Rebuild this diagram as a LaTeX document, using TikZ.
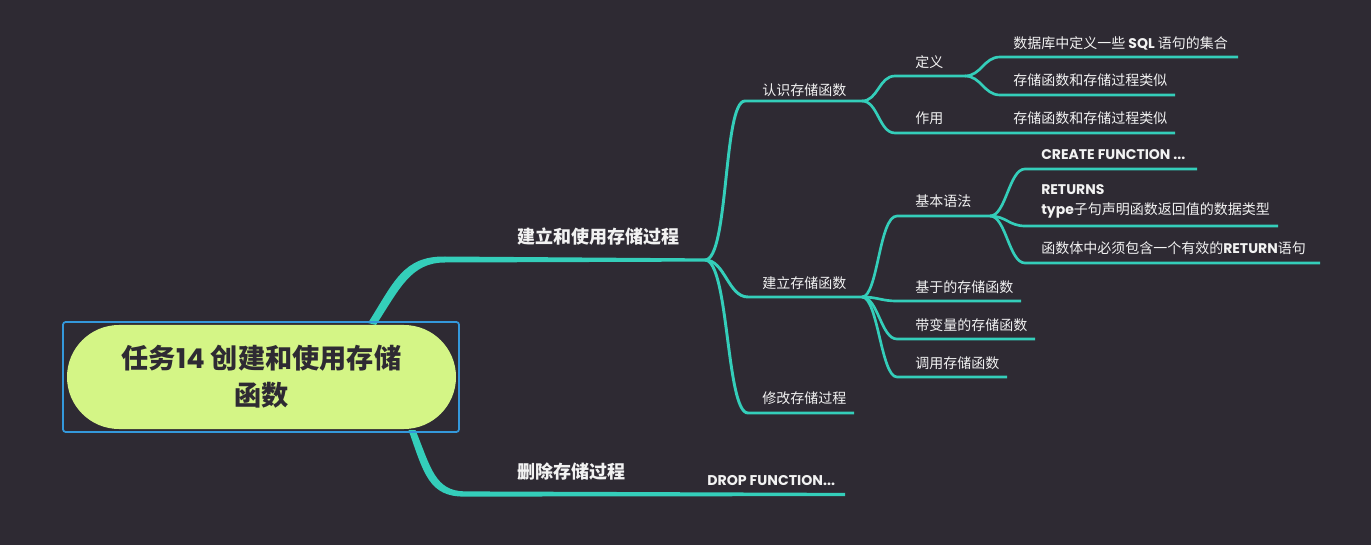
\documentclass[tikz,border=0pt]{standalone}
\usepackage{fontspec}
\setmainfont{Noto Sans CJK SC}
\newfontfamily\lat{Poppins}
\usetikzlibrary{calc}
\definecolor{bg}{RGB}{46,42,51}
\definecolor{br}{RGB}{52,206,186}
\definecolor{txt}{RGB}{242,242,242}
\definecolor{pill}{RGB}{212,245,134}
\definecolor{sel}{RGB}{52,152,219}
\begin{document}
\begin{tikzpicture}[x=0.75pt,y=-0.75pt,
  lvtwo/.style={draw=br,line width=2.2pt},
  lvthree/.style={draw=br,line width=2pt},
  lbl/.style={anchor=west,inner sep=0,text=txt,font=\fontsize{10.5}{14.5}\selectfont},
  mainlbl/.style={anchor=west,inner sep=0,text=txt,font=\fontsize{13.5}{16}\selectfont\bfseries},
  latb/.style={font=\lat\bfseries\fontsize{10.6}{12}\selectfont}
]
\useasboundingbox (0,0) rectangle (1371,545);
\fill[bg] (0,0) rectangle (1371,545);

% coordinates
\coordinate (R1) at (372,324);
\coordinate (H1) at (445,259.5);
\coordinate (J1) at (705,260);
\coordinate (R2) at (412,430);
\coordinate (H2) at (465,494);
\coordinate (J2) at (705,494.5);
\coordinate (E2) at (845,494.5);

\coordinate (aS) at (745,101); \coordinate (K1) at (862,101);
\coordinate (bS) at (748,297); \coordinate (K2) at (862,297);
\coordinate (cS) at (748,413); \coordinate (cE) at (854,413);

\coordinate (a1S) at (895,76); \coordinate (D) at (965,76);
\coordinate (a2S) at (895,133); \coordinate (a2E) at (985,133); \coordinate (a21E) at (1175,133);
\coordinate (a11S) at (1000,57); \coordinate (a11E) at (1238,57);
\coordinate (a12S) at (1000,95); \coordinate (a12E) at (1175,95);

\coordinate (b1S) at (897,216); \coordinate (B) at (990,216);
\coordinate (b2S) at (897,301); \coordinate (b2E) at (1021,301);
\coordinate (b3S) at (897,339); \coordinate (b3E) at (1035,339);
\coordinate (b4S) at (897,377); \coordinate (b4E) at (1007,377);
\coordinate (b11S) at (1025,169); \coordinate (b11E) at (1197,169);
\coordinate (b12S) at (1025,226); \coordinate (b12E) at (1278,226);
\coordinate (b13S) at (1025,263); \coordinate (b13E) at (1320,263);

% main branches (tapered)
\fill[br] ($(R1)+(-4,-1)$) .. controls ($(R1)+(22,-42)$) and ($(H1)+(-42,-3.5)$) .. ($(H1)+(0,-3)$)
  -- ($(J1)+(0,-1.6)$) -- ($(J1)+(0,1.6)$) -- ($(H1)+(0,3)$)
  .. controls ($(H1)+(-34,3)$) and ($(R1)+(28,-36)$) .. ($(R1)+(4,1)$) -- cycle;
\fill[br] ($(R2)+(-3.5,0)$) .. controls ($(R2)+(12,44)$) and ($(H2)+(-36,3)$) .. ($(H2)+(0,2.6)$)
  -- ($(E2)+(0,1.6)$) -- ($(E2)+(0,-1.6)$) -- ($(H2)+(0,-2.6)$)
  .. controls ($(H2)+(-30,-3)$) and ($(R2)+(19,38)$) .. ($(R2)+(3.5,0)$) -- cycle;

% level 2
\draw[lvtwo] (J1) .. controls +(24,0) and +(-22,0) .. (aS) -- (K1);
\draw[lvtwo] (J1) .. controls +(20,0) and +(-20,0) .. (bS) -- (K2);
\draw[lvtwo] (J1) .. controls +(24,0) and +(-22,0) .. (cS) -- (cE);

% level 3
\draw[lvthree] (K1) .. controls +(16,0) and +(-16,0) .. (a1S) -- (D);
\draw[lvthree] (K1) .. controls +(16,0) and +(-16,0) .. (a2S) -- (a2E) -- (a21E);
\draw[lvthree] (D) .. controls +(16,0) and +(-16,0) .. (a11S) -- (a11E);
\draw[lvthree] (D) .. controls +(16,0) and +(-16,0) .. (a12S) -- (a12E);

\draw[lvthree] (K2) .. controls +(16,0) and +(-18,0) .. (b1S) -- (B);
\draw[lvthree] (K2) .. controls +(16,0) and +(-16,0) .. (b2S) -- (b2E);
\draw[lvthree] (K2) .. controls +(16,0) and +(-16,0) .. (b3S) -- (b3E);
\draw[lvthree] (K2) .. controls +(16,0) and +(-16,0) .. (b4S) -- (b4E);
\draw[lvthree] (B) .. controls +(16,0) and +(-16,0) .. (b11S) -- (b11E);
\draw[lvthree] (B) .. controls +(16,0) and +(-16,0) .. (b12S) -- (b12E);
\draw[lvthree] (B) .. controls +(16,0) and +(-16,0) .. (b13S) -- (b13E);

% labels
\node[mainlbl] (n1) at (517,237) {建立和使用存储过程};
\node[mainlbl] (n2) at (517,472) {删除存储过程};
\node[lbl,latb] (n2a) at (707,481) {DROP FUNCTION...};

\node[lbl] (a) at (762,90) {认识存储函数};
\node[lbl] (b) at (762,283) {建立存储函数};
\node[lbl] (c) at (762,398) {修改存储过程};
\node[lbl] (a1) at (915,62) {定义};
\node[lbl] (a2) at (915,118) {作用};
\node[lbl] (a11) at (1013,43) {数据库中定义一些 {\lat\bfseries SQL} 语句的集合};
\node[lbl] (a12) at (1013,80) {存储函数和存储过程类似};
\node[lbl] (a21) at (1013,118) {存储函数和存储过程类似};
\node[lbl] (b1) at (915,201) {基本语法};
\node[lbl] (b2) at (915,287) {基于的存储函数};
\node[lbl] (b3) at (915,325) {带变量的存储函数};
\node[lbl] (b4) at (915,363) {调用存储函数};
\node[lbl] (b11) at (1041,155) {\lat\bfseries CREATE FUNCTION ...};
\node[lbl,align=left] (b12) at (1041,201.5) {{\lat\bfseries RETURNS}\\{\lat\bfseries type}子句声明函数返回值的数据类型};
\node[lbl] (b13) at (1041,248) {函数体中必须包含一个有效的{\lat\bfseries RETURN}语句};

% central node
\draw[sel, line width=1.3pt, rounded corners=2pt] (63,322) rectangle (459,432);
\node[fill=pill, rounded corners=39pt, minimum width=291.75pt, minimum height=78pt, inner sep=0,
  align=center, text=bg, font=\fontsize{20.4}{27.75}\selectfont\bfseries] (root) at (261.5,377)
  {任务{\lat\bfseries 14} 创建和使用存储\\函数};
\end{tikzpicture}
\end{document}
